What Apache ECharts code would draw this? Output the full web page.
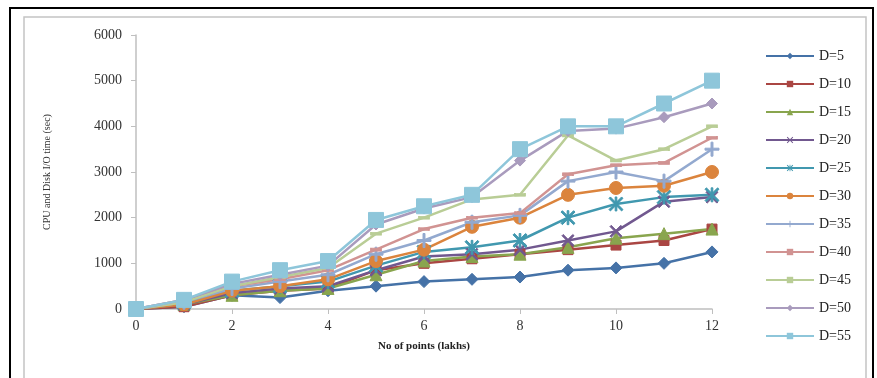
<!DOCTYPE html>
<html>
<head>
<meta charset="utf-8">
<script src="https://cdn.jsdelivr.net/npm/echarts@6/dist/echarts.min.js"></script>
<style>
html,body{margin:0;padding:0;background:#fff;}
#chart{width:877px;height:378px;}
</style>
</head>
<body>
<div id="chart"></div>
<script>
const xValues = [0,1,2,3,4,5,6,7,8,9,10,11,12];
const xTicks = [0,2,4,6,8,10,12];
const yTicks = [0,1000,2000,3000,4000,5000,6000];
const seriesNames = ['D=5','D=10','D=15','D=20','D=25','D=30','D=35','D=40','D=45','D=50','D=55'];
const d5  = [0, 50, 300, 250, 400, 500, 600, 650, 700, 850, 900, 1000, 1250];
const d10 = [0, 50, 300, 400, 450, 850, 1000, 1100, 1200, 1300, 1400, 1500, 1750];
const d15 = [0, 100, 300, 400, 450, 750, 1050, 1150, 1200, 1350, 1550, 1650, 1750];
const d20 = [0, 100, 350, 450, 500, 850, 1150, 1200, 1300, 1500, 1700, 2350, 2450];
const d25 = [0, 150, 400, 500, 600, 950, 1250, 1350, 1500, 2000, 2300, 2450, 2500];
const d30 = [0, 100, 400, 500, 650, 1050, 1300, 1800, 2000, 2500, 2650, 2700, 3000];
const d35 = [0, 150, 450, 600, 750, 1200, 1500, 1900, 2050, 2800, 3000, 2800, 3500];
const d40 = [0, 200, 500, 650, 850, 1300, 1750, 2000, 2100, 2950, 3150, 3200, 3750];
const d45 = [0, 150, 500, 700, 900, 1650, 2000, 2400, 2500, 3800, 3250, 3500, 4000];
const d50 = [0, 200, 550, 750, 950, 1850, 2200, 2450, 3250, 3900, 3950, 4200, 4500];
const d55 = [0, 200, 600, 850, 1050, 1950, 2250, 2500, 3500, 4000, 4000, 4500, 5000];
const allData = [d5,d10,d15,d20,d25,d30,d35,d40,d45,d50,d55];

const colors = ['#4572A7','#AA4643','#89A54E','#71588F','#4198AF','#DB843D','#93A9CF','#D19392','#B9CD96','#A99BBD','#8EC6DA'];
const xPath = 'path://M1,0 L5,4 L9,0 L10,1 L6,5 L10,9 L9,10 L5,6 L1,10 L0,9 L4,5 L0,1 Z';
const starPath = 'path://M1,0 L5,4 L9,0 L10,1 L6,5 L10,9 L9,10 L5,6 L1,10 L0,9 L4,5 L0,1 Z M4.4,0 L5.6,0 L5.6,10 L4.4,10 Z';
const plusPath = 'path://M4.3,0 L5.7,0 L5.7,4.3 L10,4.3 L10,5.7 L5.7,5.7 L5.7,10 L4.3,10 L4.3,5.7 L0,5.7 L0,4.3 L4.3,4.3 Z';
const dashPath = 'path://M0,0 L10,0 L10,2 L0,2 Z';
const symbols = ['diamond','rect','triangle',xPath,starPath,'circle',plusPath,dashPath,dashPath,'diamond','rect'];
const sizes = [12,10,12,12,14,13,14,[10,3],[10,3],11,15];

const serif = '"Liberation Serif","DejaVu Serif",serif';

const chart = echarts.init(document.getElementById('chart'));
chart.setOption({
  animation:false,
  backgroundColor:'#fff',
  graphic:[
    {type:'rect', shape:{x:10,y:8,width:863,height:420}, style:{fill:'none',stroke:'#000',lineWidth:2}, silent:true, z:-1},
    {type:'rect', shape:{x:24,y:17,width:842,height:420}, style:{fill:'none',stroke:'#c4c4c4',lineWidth:1.5}, silent:true, z:-1}
  ],
  grid:{left:136, right:165, top:35, bottom:69},
  legend:{
    orient:'vertical', left:765, top:49, itemWidth:48, itemHeight:8, itemGap:14,
    padding:0,
    textStyle:{fontFamily:serif, fontSize:14, color:'#222'},
    data:seriesNames
  },
  xAxis:{
    type:'value', min:0, max:12, interval:2,
    name:'No of points (lakhs)', nameLocation:'middle', nameGap:32,
    nameTextStyle:{fontFamily:serif, fontSize:11, fontWeight:'bold', color:'#222'},
    axisLine:{show:true, lineStyle:{color:'#bfbfbf', width:1.5}},
    axisTick:{show:true, inside:false, length:5, lineStyle:{color:'#bfbfbf'}},
    axisLabel:{margin:10, fontFamily:serif, fontSize:14, color:'#333',
      formatter:function(v){return xTicks.indexOf(v)>=0 ? String(v) : '';}},
    splitLine:{show:false}
  },
  yAxis:{
    type:'value', min:0, max:6000, interval:1000,
    name:'CPU and Disk I/O time (sec)', nameLocation:'middle', nameGap:84, nameRotate:90,
    nameTextStyle:{fontFamily:serif, fontSize:10, color:'#333'},
    axisLine:{show:true, lineStyle:{color:'#bfbfbf', width:1.5}},
    axisTick:{show:true, inside:false, length:5, lineStyle:{color:'#bfbfbf'}},
    axisLabel:{margin:14, fontFamily:serif, fontSize:14, color:'#333',
      formatter:function(v){return yTicks.indexOf(v)>=0 ? String(v) : '';}},
    splitLine:{show:false}
  },
  series: seriesNames.map(function(name,i){
    return {
      name:name, type:'line',
      data: xValues.map(function(x,j){return [x, allData[i][j]];}),
      symbol:symbols[i], symbolSize:sizes[i], showAllSymbol:true,
      lineStyle:{color:colors[i], width:2.5},
      itemStyle:{color:colors[i], borderColor:colors[i]},
      color:colors[i]
    };
  })
});
</script>
</body>
</html>
